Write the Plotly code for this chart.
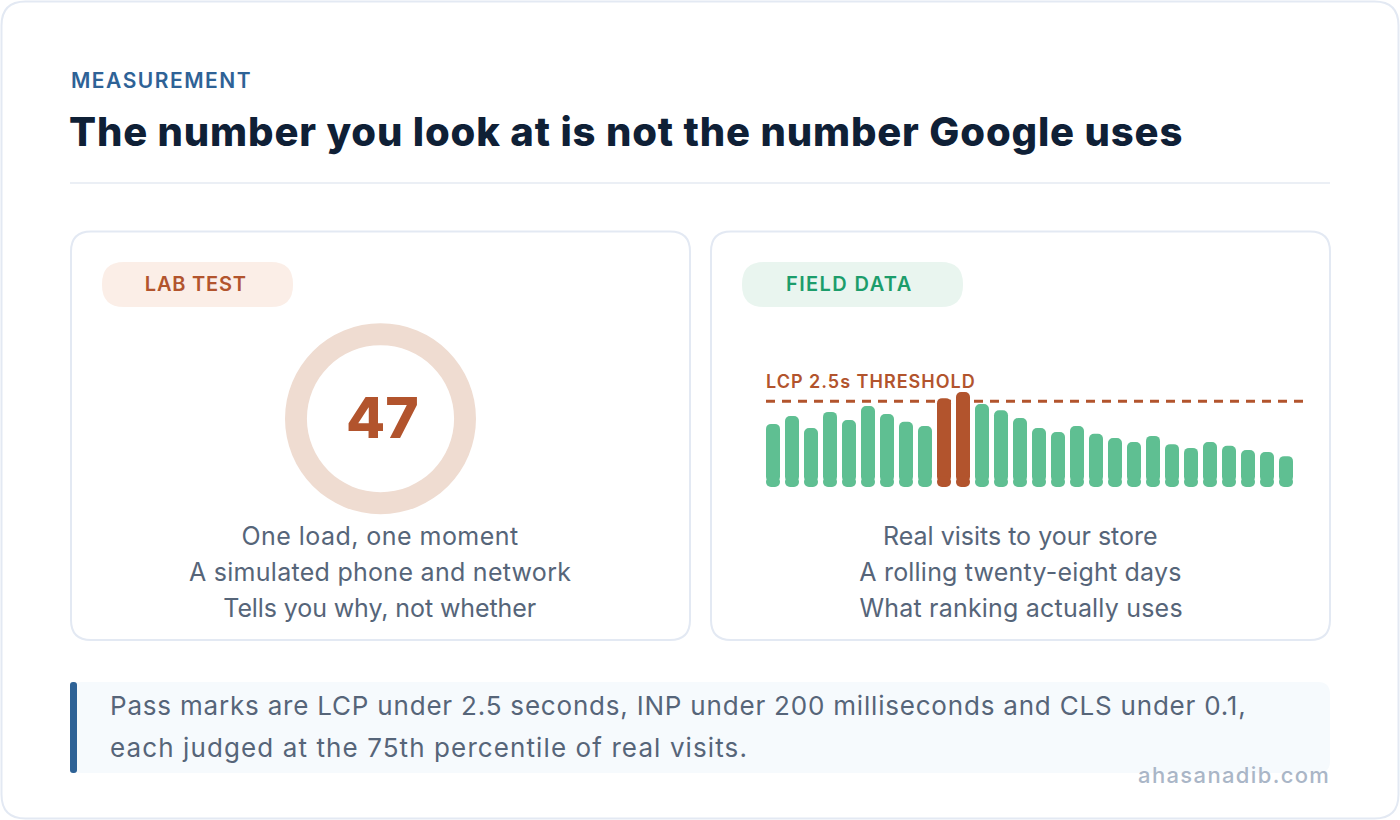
import json
import plotly.graph_objects as go

W, H = 1400, 820
FONT = "Inter"

eyebrow = "MEASUREMENT"
title = "The number you look at is not the number Google uses"
lab_label = "LAB TEST"
field_label = "FIELD DATA"
lab_score = [47]
lab_lines = ["One load, one moment", "A simulated phone and network", "Tells you why, not whether"]
field_lines = ["Real visits to your store", "A rolling twenty-eight days", "What ranking actually uses"]
note_lines = ["Pass marks are LCP under 2.5 seconds, INP under 200 milliseconds and CLS under 0.1,",
              "each judged at the 75th percentile of real visits."]
watermark = "ahasanadib.com"
threshold_label = "LCP 2.5s THRESHOLD"
threshold = 2.5
days = list(range(1, 29))
lcp = [1.84, 2.07, 1.72, 2.19, 1.95, 2.36, 2.13, 1.90, 1.78, 2.59, 2.77, 2.42, 2.24, 2.01,
       1.72, 1.60, 1.78, 1.55, 1.43, 1.31, 1.49, 1.25, 1.14, 1.31, 1.20, 1.08, 1.02, 0.90]

RUST, GREEN, NAVY, BLUE, SLATE = "#b2542d", "#5fbf92", "#0f2036", "#2e6296", "#566579"
BORDER = "#e3e9f3"

# Extra tracking per string (px), since the original typeface is wider than the installed one.
tracking = {
    eyebrow: 1.5, title: 0.84, lab_label: 0.8, field_label: 1.4, threshold_label: 1.0,
    lab_lines[0]: 0.45, lab_lines[1]: 0.28, lab_lines[2]: -0.1,
    field_lines[0]: 0.0, field_lines[1]: 0.2, field_lines[2]: 0.2,
    note_lines[0]: 0.8, note_lines[1]: 1.1, watermark: 1.35,
}


def px(x):
    return x / W


def py(y):
    return 1 - y / H


def rrect(x0, y0, x1, y1, r, fill="rgba(0,0,0,0)", line=None, lw=0, layer="below"):
    a, b, c, d = px(x0), py(y0), px(x1), py(y1)
    rx, ry = r / W, r / H
    path = (f"M{a + rx},{b} L{c - rx},{b} Q{c},{b} {c},{b - ry} L{c},{d + ry} Q{c},{d} {c - rx},{d} "
            f"L{a + rx},{d} Q{a},{d} {a},{d + ry} L{a},{b - ry} Q{a},{b} {a + rx},{b} Z")
    return dict(type="path", xref="paper", yref="paper", path=path, fillcolor=fill, layer=layer,
                line=dict(color=line or "rgba(0,0,0,0)", width=lw))


def text(s, x, y, size, color, anchor="left", weight=400):
    return dict(text=s, x=px(x), y=py(y), xref="paper", yref="paper", xanchor=anchor, yanchor="middle",
                showarrow=False, align=anchor, borderwidth=0, borderpad=0,
                font=dict(family=FONT, size=size, color=color, weight=weight))


X0, X1 = 766, 1303
PITCH = 19
CENTER0 = 773
BASE, TOP = 487, 360
cap = 0.15  # axis units kept for the rounded foot of every bar
colors = [RUST if v > threshold else GREEN for v in lcp]

fig = go.Figure()
fig.add_trace(go.Bar(x=days, y=[v - cap for v in lcp], base=[cap] * len(lcp), marker=dict(color=colors, line_width=0),
                     showlegend=False, hoverinfo="skip"))
fig.add_trace(go.Bar(x=days, y=[-2 * cap] * len(lcp), base=[2 * cap] * len(lcp), marker=dict(color=colors, line_width=0),
                     showlegend=False, hoverinfo="skip"))
fig.add_trace(go.Pie(values=lab_score, hole=0.77, sort=False, textinfo="none", hoverinfo="skip", showlegend=False,
                     marker=dict(colors=["#efdcd1"], line_width=0),
                     domain=dict(x=[px(285), px(476)], y=[py(514.2), py(323.2)])))

shapes = [
    rrect(1.5, 1.5, 1398.5, 818.5, 24, "#ffffff", BORDER, 2),
    dict(type="line", xref="paper", yref="paper", x0=px(70), x1=px(1330), y0=py(183), y1=py(183),
         line=dict(color="#ebeff5", width=2), layer="below"),
    rrect(71, 231.5, 690, 640, 20, "#ffffff", BORDER, 2),
    rrect(711, 231.5, 1330, 640, 20, "#ffffff", BORDER, 2),
    rrect(102, 262, 293, 307, 22, "#fbeee7"),
    rrect(742, 262, 963, 307, 22, "#e9f5ef"),
    rrect(70, 682, 1330, 773, 12, "#f6fafd"),
    rrect(70, 682, 77, 773, 3, BLUE),
    dict(type="line", xref="x domain", yref="y", x0=0, x1=1, y0=threshold, y1=threshold,
         line=dict(color=RUST, width=3, dash="9px,7px"), layer="below"),
]

annotations = [
    text(eyebrow, 70.5, 81, 21, BLUE, weight=600),
    text(title, 69, 131.5, 40, NAVY, weight=800),
    text(lab_label, 195.5, 284, 20, RUST, "center", 600),
    text(field_label, 849, 284, 20, "#1c9d6b", "center", 600),
    text(str(lab_score[0]), 382, 417.5, 57, RUST, "center", 800),
    text(threshold_label, 765.5, 381, 18, RUST, weight=600),
    text(note_lines[0], 109.5, 705.5, 26, SLATE),
    text(note_lines[1], 109.5, 747.5, 26, SLATE),
    text(watermark, 1330, 775, 22, "#aab6c7", "right", 500),
]
for i, (a, b) in enumerate(zip(lab_lines, field_lines)):
    annotations.append(text(a, 380, 536.3 + 36 * i, 25, SLATE, "center"))
    annotations.append(text(b, 1020.5, 536.3 + 36 * i, 25, SLATE, "center"))

fig.update_layout(
    width=W, height=H, margin=dict(l=0, r=0, t=0, b=0), paper_bgcolor="#ffffff", plot_bgcolor="rgba(0,0,0,0)",
    barmode="overlay", bargap=5 / PITCH, barcornerradius=5, shapes=shapes, annotations=annotations,
    xaxis=dict(domain=[px(X0), px(X1)], range=[1 + (X0 - CENTER0) / PITCH, 1 + (X1 - CENTER0) / PITCH], visible=False),
    yaxis=dict(domain=[py(BASE), py(TOP)], range=[0, (BASE - TOP) / 34.3], visible=False),
)

post = """
document.body.style.margin = '0';
var tracking = %s;
function applyTracking() {
  document.querySelectorAll('.annotation-text').forEach(function (el) {
    var s = tracking[el.textContent];
    if (s) { el.style.letterSpacing = s + 'px'; }
  });
}
applyTracking();
setTimeout(applyTracking, 50);
""" % json.dumps(tracking)
fig.write_html("out.html", post_script=post, config={"displayModeBar": False})
